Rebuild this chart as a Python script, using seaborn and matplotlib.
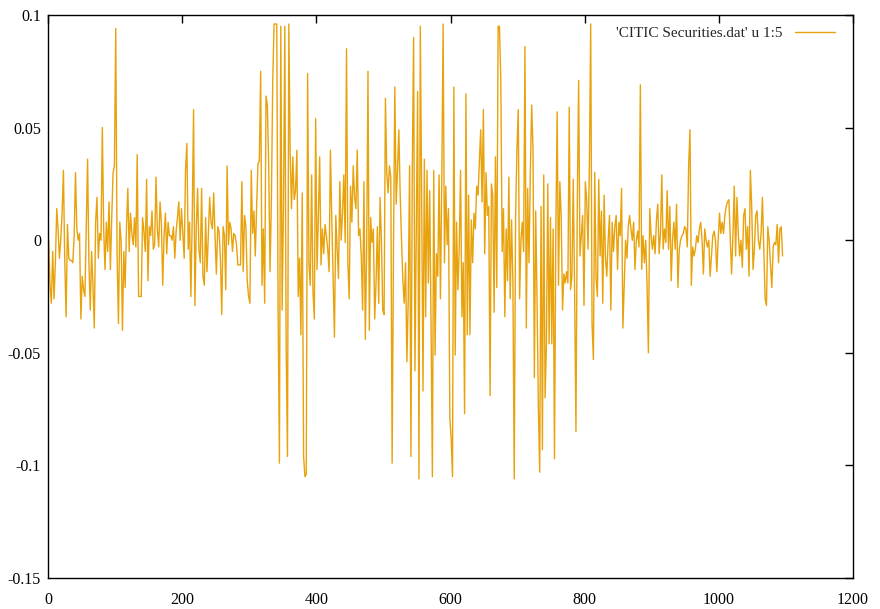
import numpy as np
import pandas as pd
import matplotlib
matplotlib.use("Agg")
import matplotlib.pyplot as plt
import seaborn as sns

# daily log returns (in thousandths), one value every 2 days
seg1 = [0, -20, -28, -5, -26, -10, 14, 5, -8, 0, 12, 31, -10, -34, 7, -8, -9, -9, -10, 2,
        30, 5, 0, 3, -35, -16, -22, -25, 5, 36, -10, -31, -5, -20, -39, 8, 19, -8, 3, 0,
        50, 5, -13, 8, -5, 17, -13, 10, 30, 33, 94, -7, -37, 8, 0, -40, -5, -21, 6, 23,
        -5, 12, 3, -2, 10, -3, 38, -25, -25, -25, 10, 4, -5, 27, -18, 6, 2, 13, -4, -2,
        28, 5, -3, 17, 8, -20, 2, 12, -6, 8, 2]
seg2 = [2, 0, 6, -8, 4, 10, 17, 0, 14, 3, -8, 31, 43, -4, 8, -25, 10, 58, -29, 5,
        23, -4, -10, 23, -16, -20, 10, -14, 2, 19, 8, 5, 21, 2, -15, 6, 4, -8, -33, 6,
        2, -22, 33, -2, 8, 5, -5, 3, 2, -2, -11, -11, -11, 26, -14, 11, 6, -18, -25, -28,
        31, 3, 13, -7, 15, 34, 35, 75, -20, 5, -28, 64, 60, 33, -14, 18, 70, 96, 96, 96,
        -31, -99, 95, -31, 14, 95, -47, -96, 96, 39]
seg3 = [14, 37, 18, 22, 40, -25, -8, -42, 21, -96, -105, -104, 74, -11, -20, 29, -23, -35, 54, -13,
        10, 37, -11, 5, -6, 7, 2, -4, -14, 40, 10, -16, -43, 11, -4, -17, 26, 0, 12, 29,
        -1, 85, -10, -26, 24, 8, 33, 19, 14, 40, 2, 5, -7, -31, 26, -44, -5, 75, -40, 10,
        -1, 5, -35, -19, 6, -28, 19, 0, -31, -33, 63, 30, 21, 33, 28, -99, -4, 68, 16, 31,
        49, 20, 0, -18, -28, -10, -54, -26, 33, -96]
seg4 = [30, 90, -58, 5, 66, -106, 95, 20, -67, 36, -34, 31, -19, 22, -37, -105, 31, -51, -6, -16,
        29, -26, 27, 96, -10, 24, -2, 14, -79, -88, -105, 68, -51, 8, -22, -4, 31, -34, -10, -77,
        65, -42, 20, -42, 9, -10, 12, 5, 24, 20, 34, 49, 17, 58, -6, 30, 11, 15, -69, 25,
        20, -32, 37, -21, 95, 95, 71, -5, 14, -34, 5, -18, 28, -26, 9, -18, -106, 10, 40, 58,
        -26, 0, 8, -5, 86, -39, 23, -10, 30, 60]
seg5 = [40, -61, 13, -26, -75, -103, 15, -93, 29, -70, -46, 25, -46, 10, -46, 5, -97, 3, 57, -20,
        26, 11, -31, -15, -19, -14, -19, 59, -22, -16, 27, -22, -85, 16, 71, -7, 2, 11, -29, 26,
        18, -4, 33, 96, -37, -53, 30, -17, -25, 27, -7, 13, -28, 20, -8, -16, 0, 11, -31, 8,
        -5, 6, 11, -13, 8, 2, 23, -39, -20, 0, -8, 6, 11, 5, 0, 8, -13, 0, 4, -3,
        69, -13, 2, -10, 0, -20, -50, 14, 2, -4]
seg6 = [2, -6, 9, 16, -6, 3, 29, -4, 5, -1, 22, -4, 15, -18, 0, 8, -4, 16, -21, -4,
        0, 2, 3, 6, 5, -3, 33, 49, -20, -3, -7, -4, 2, -1, 5, 8, 0, -15, 5, 0,
        -3, 0, -16, -7, 2, 4, 0, -14, 0, 12, 3, 8, 3, 11, 15, 17, 18, 2, -15, 2,
        24, -7, 19, 3, -7, 0, -12, 11, 14, -4, 6, -16, 31, 15, -13, -4, 11, 13, 0, -4,
        3, 19, -4, -26, -29, 6, 0, -11, -21, -3, -1, -2, 7, -10, 5, 6, -7]

returns_permille = seg1 + seg2 + seg3 + seg4 + seg5 + seg6
day_step = 2
days = 1 + day_step * np.arange(len(returns_permille))
returns = np.array(returns_permille) / 1000.0

x_ticks = [0, 200, 400, 600, 800, 1000, 1200]
y_ticks = [-0.15, -0.1, -0.05, 0, 0.05, 0.1]
y_tick_labels = ["-0.15", "-0.1", "-0.05", "0", "0.05", "0.1"]
series_label = "'CITIC Securities.dat' u 1:5"

df = pd.DataFrame({"day": days, "ret": returns})

sns.set_style("white")
plt.rcParams["font.family"] = ["Liberation Serif", "DejaVu Serif"]
plt.rcParams["axes.unicode_minus"] = False

fig = plt.figure(figsize=(8.8, 6.09), dpi=100)
ax = fig.add_axes([48 / 880, 1 - 578 / 609, (853 - 48) / 880, (578 - 15) / 609])

sns.lineplot(data=df, x="day", y="ret", ax=ax, color="#e8a20c", linewidth=1.0,
             estimator=None, label=series_label)

ax.set_xlim(0, 1200)
ax.set_ylim(-0.15, 0.1)
ax.set_xticks(x_ticks)
ax.set_xticklabels([str(t) for t in x_ticks])
ax.set_yticks(y_ticks)
ax.set_yticklabels(y_tick_labels)
ax.set_xlabel("")
ax.set_ylabel("")

for s in ax.spines.values():
    s.set_visible(True)
    s.set_color("black")
    s.set_linewidth(1.0)

ax.tick_params(axis="both", which="major", direction="in", length=6, width=1.0,
               top=True, right=True, labelsize=11.5, colors="black")
ax.tick_params(axis="x", pad=10)
ax.tick_params(axis="y", pad=5)

leg = ax.legend(loc="upper right", bbox_to_anchor=(0.9851, 0.991), frameon=False,
                markerfirst=False, handlelength=2.6, fontsize=11, handletextpad=0.8,
                borderaxespad=0.0)

fig.savefig("out.png", dpi=100, facecolor="white")
